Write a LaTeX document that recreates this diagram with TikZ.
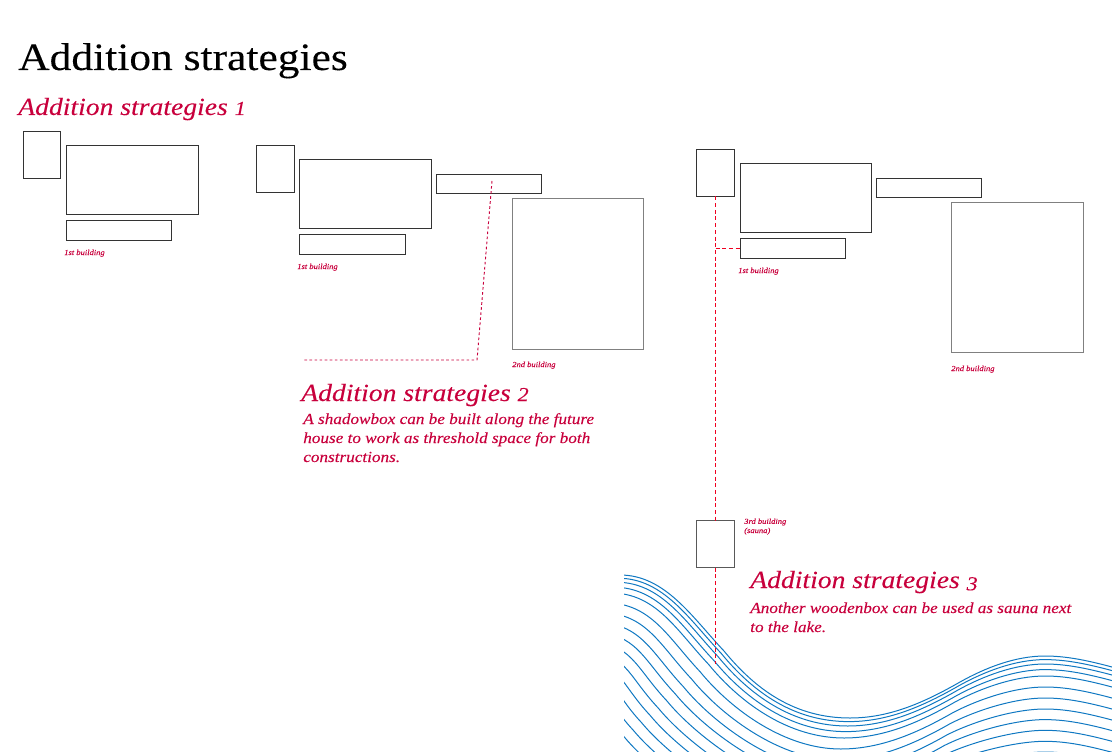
\documentclass[tikz,border=0pt]{standalone}
\usepackage{fontspec}
\setmainfont[FakeStretch=1.12,FakeBold=0.12]{Liberation Serif}
\definecolor{crim}{HTML}{C8003C}
\definecolor{dashred}{HTML}{F00020}
\definecolor{lake}{HTML}{0F78C2}
\tikzset{
  boxx/.style={draw=black!80,line width=0.75pt,rectangle,inner sep=0pt,outer sep=0pt},
  palebox/.style={draw=black!50,line width=0.6pt},
  h1text/.style={anchor=base west,inner sep=0pt,font=\fontsize{29.1}{34}\selectfont},
  h2text/.style={anchor=base west,inner sep=0pt,text=crim,font=\fontsize{18.5}{24}\selectfont\itshape},
  bodytext/.style={anchor=base west,inner sep=0pt,text=crim,align=left,font=\fontsize{11.5}{14.25}\selectfont\itshape},
  smalltext/.style={anchor=base west,inner sep=0pt,text=crim,align=left,font=\fontsize{5.7}{6.9}\selectfont\itshape},
  linkdash/.style={draw=dashred,line width=1.1pt,dash pattern=on 3pt off 2pt},
  finedash/.style={draw=crim,line width=0.7pt,dash pattern=on 2pt off 1.8pt},
  wave/.style={draw=lake,line width=0.75pt}
}
\newcommand\pxbox[6][]{\node[boxx,#1,minimum width={(#5-#3-1)*0.75pt},minimum height={(#6-#4-1)*0.75pt}] (#2) at ({(#3+#5)/2},{(#4+#6)/2}) {};}
\newcommand\oldfig[1]{\scalebox{0.8}{#1}}
\begin{document}
\begin{tikzpicture}[x=0.75pt,y=-0.75pt]
\useasboundingbox (0,0) rectangle (1112,752);
% lake
\begin{scope}
\clip (624,560) rectangle (1112,752);
\foreach \d in {0,3.6,8,13.6,20,31,42,53,63.6,74.3,85.3,96,107,118,129,140}{
  \draw[wave] ({620-0.45*\d},{575+0.9*\d})
    .. controls ({665-0.45*\d},{575+0.9*\d}) and ({692-0.77*\d},{617+0.67*\d}) .. ({724-0.77*\d},{651+0.67*\d})
    .. controls ({756-0.77*\d},{690+0.67*\d}) and ({795-0.3*\d},{718+\d}) .. ({850-0.3*\d},{718+\d})
    .. controls ({890-0.3*\d},{718+\d}) and ({925-0.25*\d},{702+\d}) .. ({960-0.25*\d},{682+\d})
    .. controls ({985-0.2*\d},{668+\d}) and ({1015},{656+\d}) .. ({1045},{656+\d})
    .. controls (1070,{656+\d}) and (1095,{662+\d}) .. (1130,{672+\d});
}
\end{scope}
% titles
\node[h1text] (title) at (18,70) {Addition strategies};
\node[h2text] (h1) at (18,115) {Addition strategies \oldfig{1}};
\node[h2text] (h2) at (301,401) {Addition strategies \oldfig{2}};
\node[h2text] (h3) at (750,588) {Addition strategies \raisebox{-0.2ex}{\oldfig{3}}};
\node[bodytext] (p2) at (303,462) {A shadowbox can be built along the future\\house to work as threshold space for both\\constructions.};
\node[bodytext] (p3) at (750,632) {Another woodenbox can be used as sauna next\\to the lake.};
% set 1
\pxbox{aS}{23}{131}{61}{179}
\pxbox{aB}{66}{145}{199}{215}
\pxbox{aL}{66}{220}{172}{241}
\node[smalltext] (aT) at (64,255) {1st building};
% set 2
\pxbox{bS}{256}{145}{295}{193}
\pxbox{bB}{299}{159}{432}{229}
\pxbox{bL}{299}{234}{406}{255}
\pxbox{bM}{436}{174}{542}{194}
\pxbox[palebox]{bH}{512}{198}{644}{350}
\node[smalltext] (bT) at (297,269) {1st building};
\node[smalltext] (bU) at (512,367) {2nd building};
\coordinate (bA) at (492,181);
\coordinate (bK) at (477,360);
\coordinate (bE) at (303,360);
\draw[finedash] (bA) -- (bK) -- (bE);
% set 3
\pxbox{cS}{696}{149}{735}{197}
\pxbox{cB}{740}{163}{872}{233}
\pxbox{cL}{740}{238}{846}{259}
\pxbox{cM}{876}{178}{982}{198}
\pxbox[palebox]{cH}{951}{202}{1084}{353}
\pxbox[draw=black!65]{cN}{696}{520}{735}{568}
\node[smalltext] (cT) at (738,273) {1st building};
\node[smalltext] (cU) at (951,371) {2nd building};
\node[smalltext] (cV) at (744,533) {3rd building\\(sauna)};
\coordinate (cJ) at (cS.south |- cL.west);
\coordinate (cF) at (cN.south |- 0,664);
\draw[linkdash] (cS.south) -- (cN.north);
\draw[linkdash] (cJ) -- (cL.west);
\draw[linkdash] (cN.south) -- (cF);
\end{tikzpicture}
\end{document}
